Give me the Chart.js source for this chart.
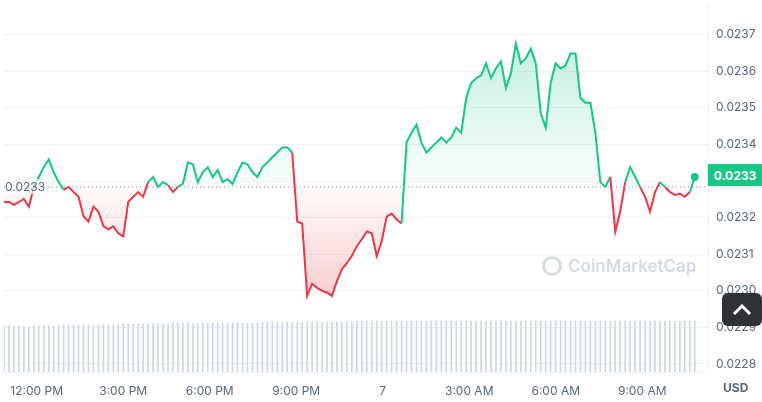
<!DOCTYPE html>
<html><head><meta charset="utf-8">
<script src="https://cdn.jsdelivr.net/npm/chart.js@4"></script>
<style>
body{margin:0;background:#fff;font-family:Inter,"Noto Sans",sans-serif;}
#wrap{position:relative;width:762px;height:402px;}
#wm{position:absolute;left:542px;top:256px;color:#d5dae3;font-size:17px;font-weight:600;display:flex;align-items:center;gap:6px;}
#wm span.c{display:inline-block;width:20px;height:20px;border:3px solid #d5dae3;border-radius:50%;box-sizing:border-box;}
#btn{position:absolute;left:722px;top:293px;width:40px;height:33px;background:#2f3135;border-radius:6px;color:#fff;display:flex;align-items:center;justify-content:center;}
#usd{position:absolute;left:723px;top:380px;font-size:12px;font-weight:700;color:#58667e;}
#cur{position:absolute;left:708px;top:164px;width:54px;height:22px;background:#16c784;color:#fff;font-size:12px;font-weight:700;display:flex;align-items:center;justify-content:center;}
#base{position:absolute;left:5px;top:179px;font-size:12px;color:#58667e;background:rgba(255,255,255,0.7);}
</style></head><body>
<div id="wrap"><canvas id="c" width="762" height="402"></canvas>
<div id="wm"><span class="c"></span>CoinMarketCap</div>
<div id="base">0.0233</div>
<div id="cur">0.0233</div>
<div id="usd">USD</div>
<div id="btn"><svg width="20" height="12" viewBox="0 0 20 12"><path d="M2 10 L10 2 L18 10" stroke="#fff" stroke-width="3" fill="none"/></svg></div>
</div>
<script>
const startMinute = 10*60+52;   // 10:52 AM
const stepMinutes = 10.34;
const baseline = 0.023284;
const prices = [
0.023243,0.023243,0.023235,0.023243,0.023251,0.023230,0.023284,0.023311,0.023338,0.023359,
0.023324,0.023297,0.023276,0.023284,0.023270,0.023257,0.023203,0.023189,0.023230,0.023216,
0.023176,0.023168,0.023176,0.023157,0.023149,0.023243,0.023257,0.023270,0.023257,0.023297,
0.023311,0.023284,0.023297,0.023289,0.023270,0.023284,0.023292,0.023351,0.023346,0.023297,
0.023324,0.023338,0.023311,0.023330,0.023297,0.023305,0.023292,0.023324,0.023351,0.023346,
0.023324,0.023311,0.023338,0.023351,0.023365,0.023378,0.023392,0.023392,0.023378,0.023189,
0.023184,0.022986,0.023019,0.023008,0.023000,0.022995,0.022986,0.023027,0.023059,0.023076,
0.023095,0.023122,0.023141,0.023162,0.023157,0.023095,0.023135,0.023203,0.023211,0.023195,
0.023184,0.023405,0.023432,0.023454,0.023405,0.023378,0.023392,0.023405,0.023419,0.023405,
0.023419,0.023446,0.023432,0.023527,0.023568,0.023581,0.023589,0.023622,0.023581,0.023608,
0.023627,0.023554,0.023595,0.023676,0.023622,0.023635,0.023662,0.023622,0.023486,0.023446,
0.023568,0.023622,0.023608,0.023616,0.023649,0.023649,0.023527,0.023514,0.023514,0.023432,
0.023297,0.023284,0.023311,0.023162,0.023216,0.023297,0.023338,0.023311,0.023284,0.023257,
0.023216,0.023270,0.023297,0.023284,0.023270,0.023262,0.023265,0.023257,0.023270,0.023311
];
const volumes = [
49,49,49,49,48,48,49,49,49,49,49,50,50,50,50,50,50,50,50,50,
50,50,50,51,51,51,51,51,51,51,51,51,51,51,52,52,52,52,51,51,
52,52,52,52,52,52,52,52,52,52,52,52,53,53,53,53,53,53,53,53,
53,53,53,53,53,53,53,53,53,53,53,54,54,54,54,54,54,54,54,54,
54,54,54,54,54,54,54,54,54,54,54,54,54,54,54,54,54,54,54,54,
54,54,54,54,54,54,54,54,54,54,54,54,54,54,54,54,54,54,54,54,
54,54,54,54,54,54,54,54,54,54,54,54,54,54,54,54,54,54,54,54
];
const yTicks = [0.0228,0.0229,0.0230,0.0231,0.0232,0.0233,0.0234,0.0235,0.0236,0.0237];
const xTickLabels = ["12:00 PM","3:00 PM","6:00 PM","9:00 PM","7","3:00 AM","6:00 AM","9:00 AM"];
const xTickClock = [12*60,15*60,18*60,21*60,24*60,27*60,30*60,33*60];

const GREEN='#16c784', RED='#ea3943';
const canvas=document.getElementById('c'); const g=canvas.getContext('2d');
const gUp=g.createLinearGradient(0,30,0,185); gUp.addColorStop(0,'rgba(22,199,132,0.28)'); gUp.addColorStop(1,'rgba(22,199,132,0.02)');
const gDn=g.createLinearGradient(0,185,0,300); gDn.addColorStop(0,'rgba(234,57,67,0.02)'); gDn.addColorStop(1,'rgba(234,57,67,0.25)');

const pricePts = prices.map((p,i)=>({x:i*stepMinutes,y:p}));
const volPts = volumes.map((v,i)=>({x:i*stepMinutes,y:v}));
const last = prices.length-1;

const baseLinePlugin={id:'bl',afterDatasetsDraw(ch){const c=ch.ctx,y=ch.scales.y.getPixelForValue(baseline);
 c.save();c.strokeStyle='#8a93a6';c.lineWidth=1;c.setLineDash([1,3]);c.beginPath();c.moveTo(ch.chartArea.left,y);c.lineTo(ch.chartArea.right,y);c.stroke();c.restore();}};

new Chart(canvas,{
 data:{datasets:[
  {type:'line',data:pricePts,yAxisID:'y',borderWidth:2,tension:0,clip:false,
   pointRadius:c=>c.dataIndex===last?4:0,pointBackgroundColor:GREEN,pointBorderWidth:0,
   fill:{target:{value:baseline},above:gUp,below:gDn},
   segment:{borderColor:c=>((c.p0.parsed.y+c.p1.parsed.y)/2>=baseline?GREEN:RED)},order:0},
  {type:'bar',data:volPts,yAxisID:'y2',backgroundColor:'#cfd6e4',barThickness:1,order:1}
 ]},
 options:{animation:false,responsive:false,events:[],
  layout:{padding:0},
  plugins:{legend:{display:false},tooltip:{enabled:false}},
  scales:{
   x:{type:'linear',offset:false,min:0,max:708/29*60,
    afterBuildTicks:s=>{s.ticks=xTickClock.map(m=>({value:m-startMinute}));},
    ticks:{autoSkip:false,maxRotation:0,color:'#58667e',font:{size:12,family:'Inter'},padding:4,
      callback:(v,i)=>xTickLabels[i]},
    grid:{display:false},border:{display:true,color:'#eff2f5'},
    afterFit:s=>{s.height=30;s.paddingLeft=0;s.paddingRight=0;}},
   y:{position:'right',min:0.022778,max:0.023784,
    afterBuildTicks:s=>{s.ticks=yTicks.map(v=>({value:v}));},
    ticks:{color:'#58667e',font:{size:12,family:'Inter'},padding:8,callback:v=>v.toFixed(4)},
    grid:{color:'#eff2f5',drawTicks:false},border:{display:true,color:'#eff2f5'},
    afterFit:s=>{s.width=54;s.paddingTop=0;s.paddingBottom=0;}},
   y2:{display:false,min:0,max:390}
  }},
 plugins:[baseLinePlugin]
});
</script></body></html>
